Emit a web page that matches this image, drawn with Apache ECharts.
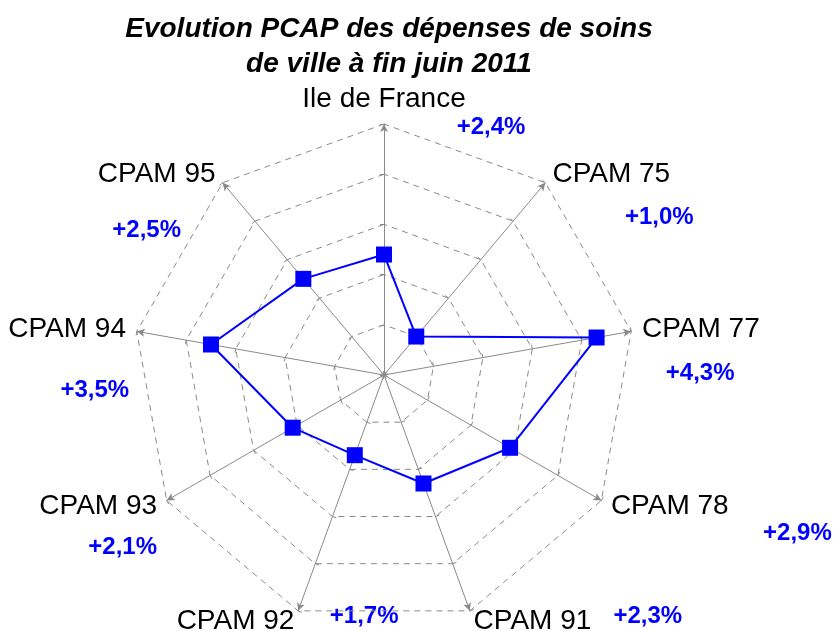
<!DOCTYPE html>
<html>
<head>
<meta charset="utf-8">
<script src="https://cdn.jsdelivr.net/npm/echarts@6/dist/echarts.min.js"></script>
<style>
  html, body { margin: 0; padding: 0; background: #fff; }
  #main { width: 834px; height: 631px; }
</style>
</head>
<body>
<div id="main"></div>
<script>
// indicators, clockwise from the top
var names = ["Ile de France", "CPAM 75", "CPAM 77", "CPAM 78", "CPAM 91",
             "CPAM 92", "CPAM 93", "CPAM 94", "CPAM 95"];
var values = [2.4, 1.0, 4.3, 2.9, 2.3, 1.7, 2.1, 3.5, 2.5];
var maxValue = 5;

// where each value text sits, relative to the end of its axis
var labelOffsets = [[107, 3], [114, 35], [69, 42], [196, 33], [178, 6],
                    [66, 6], [-44, 47], [-42, 59], [-76, 48]];

var cx = 384, cy = 375, radius = 251;
var fontFam = "Liberation Sans, Arial, sans-serif";

// echarts radar runs counter-clockwise, so feed it the reversed order
var order = [0].concat(names.map(function (n, i) { return i; }).slice(1).reverse());
var radarNames = order.map(function (i) { return names[i]; });
var radarValues = order.map(function (i) { return values[i]; });

function fmt(v) {
  return "+" + v.toFixed(1).replace(".", ",") + "%";
}

var graphics = values.map(function (v, i) {
  var ang = i * 2 * Math.PI / names.length;
  var vx = cx + radius * Math.sin(ang);
  var vy = cy - radius * Math.cos(ang);
  return {
    type: "text",
    x: vx + labelOffsets[i][0],
    y: vy + labelOffsets[i][1],
    style: {
      text: fmt(v),
      fill: "#0000ff",
      font: "bold 24px " + fontFam,
      textAlign: "center",
      textVerticalAlign: "middle"
    }
  };
});

var chartDom = document.getElementById("main");
var myChart = echarts.init(chartDom);
var option = {
  backgroundColor: "#fff",
  animation: false,
  title: {
    text: "Evolution PCAP des dépenses de soins\nde ville à fin juin 2011",
    left: 384,
    textAlign: "center",
    top: 7,
    textStyle: {
      fontFamily: fontFam,
      fontSize: 28,
      fontWeight: "bold",
      fontStyle: "italic",
      lineHeight: 35,
      color: "#000"
    }
  },
  radar: {
    center: [cx, cy],
    radius: radius,
    startAngle: 90,
    shape: "polygon",
    splitNumber: 5,
    nameGap: 11,
    indicator: radarNames.map(function (n) {
      return { name: n, min: 0, max: maxValue };
    }),
    axisName: {
      color: "#000",
      fontFamily: fontFam,
      fontSize: 28
    },
    axisLine: {
      symbol: ["none", "arrow"],
      symbolSize: [6, 8],
      lineStyle: { color: "#8a8a8a", width: 1 }
    },
    axisTick: {
      show: true,
      length: 4,
      lineStyle: { color: "#8a8a8a", width: 1 }
    },
    splitLine: {
      lineStyle: { color: "#8a8a8a", width: 1, type: [6, 5] }
    },
    splitArea: { show: false }
  },
  series: [
    {
      type: "radar",
      symbol: "rect",
      symbolSize: 16,
      lineStyle: { color: "#0000ff", width: 2 },
      itemStyle: { color: "#0000ff" },
      data: [{ value: radarValues, name: "PCAP" }]
    }
  ],
  graphic: graphics
};

option && myChart.setOption(option);
</script>
</body>
</html>
